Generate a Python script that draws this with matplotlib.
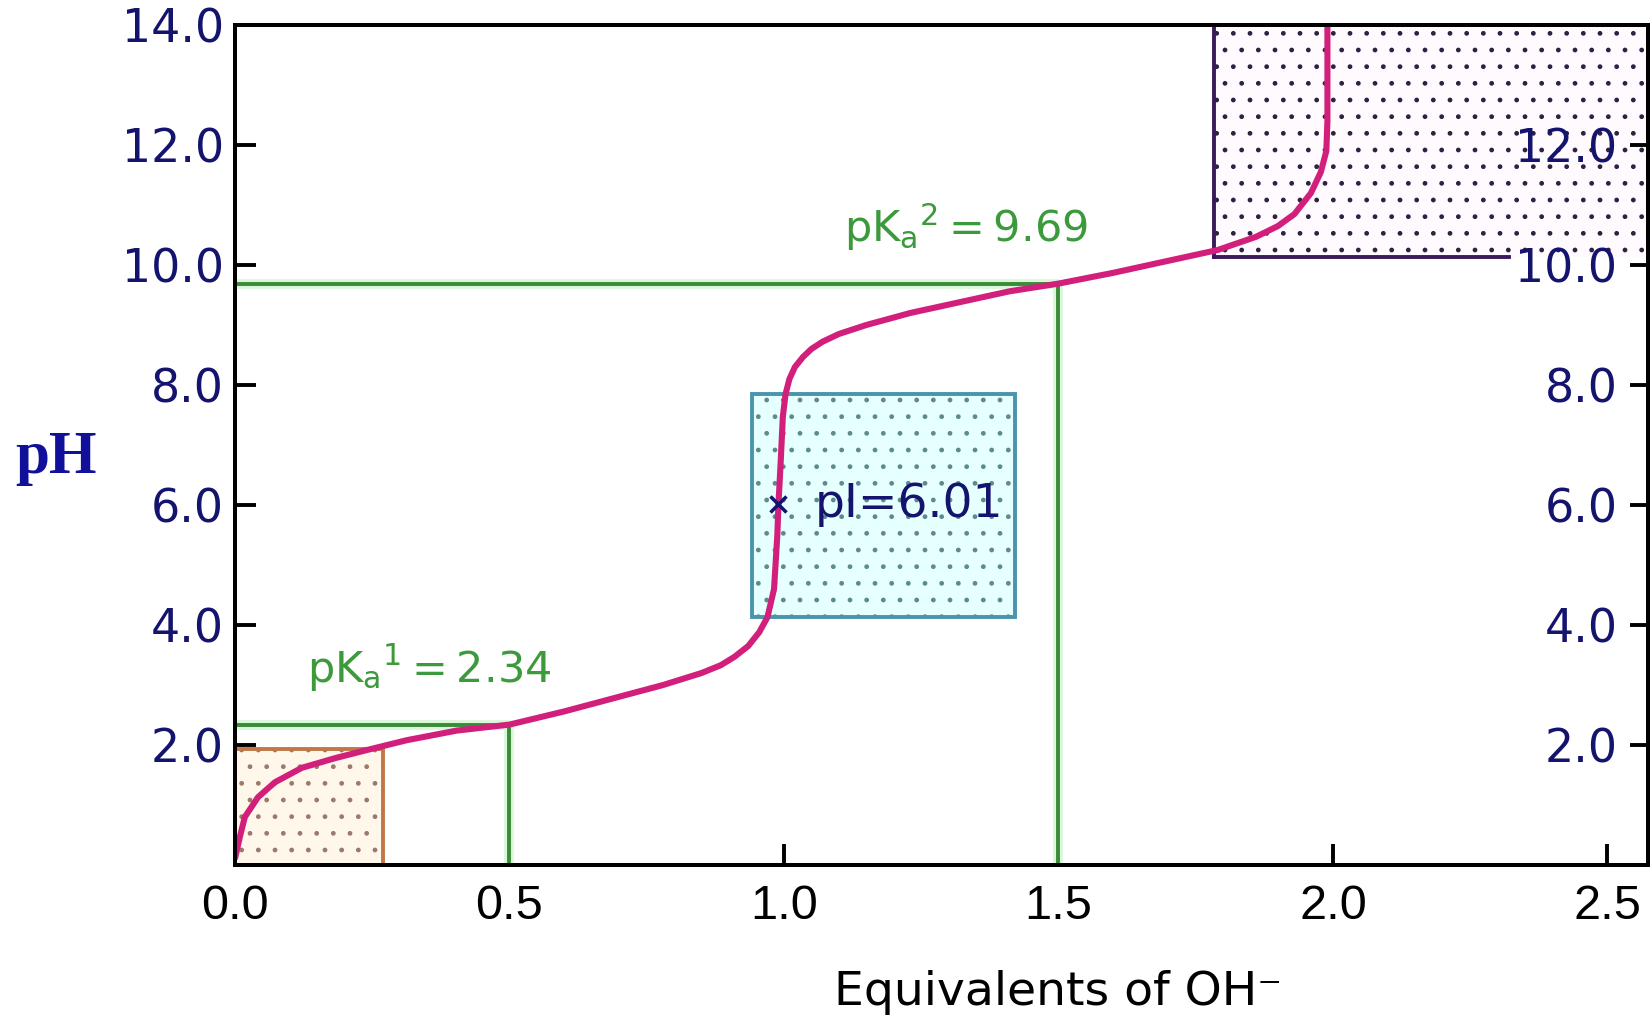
import numpy as np
import matplotlib.pyplot as plt
from matplotlib.patches import Rectangle

# titration curve
eq_oh = [0.0, 0.009, 0.018, 0.042, 0.073, 0.122, 0.182, 0.242, 0.313, 0.404, 0.5,
         0.6, 0.69, 0.78, 0.85, 0.885, 0.91, 0.935, 0.955, 0.97, 0.982, 0.988, 0.99,
         0.994, 0.998, 1.003, 1.01, 1.02, 1.035, 1.05, 1.07, 1.1, 1.15, 1.23, 1.32,
         1.41, 1.5, 1.6, 1.69, 1.79, 1.86, 1.9, 1.93, 1.96, 1.978, 1.988, 1.99, 1.99]
ph_curve = [0.1, 0.47, 0.8, 1.13, 1.38, 1.62, 1.78, 1.92, 2.08, 2.24, 2.34,
            2.56, 2.78, 3.0, 3.2, 3.33, 3.47, 3.65, 3.88, 4.13, 4.6, 5.5, 6.01,
            6.7, 7.47, 7.85, 8.1, 8.3, 8.47, 8.6, 8.72, 8.85, 9.0, 9.2, 9.38,
            9.56, 9.69, 9.87, 10.05, 10.25, 10.47, 10.65, 10.85, 11.2, 11.55, 11.9, 12.4, 14.0]

pka_eq = [0.5, 1.5]
pka_vals = [2.34, 9.69]
pka_labels = [r'$\mathrm{pK_a{}^1=2.34}$', r'$\mathrm{pK_a{}^2=9.69}$']
pka_label_pos = [(0.131, 3.03), (1.11, 10.38)]

pi_eq = 0.99
pi_val = 6.01

# shaded zones: (x0, x1, y0, y1)
zone_low = (0.0, 0.27, 0.0, 1.93)
zone_mid = (0.942, 1.421, 4.13, 7.85)
zone_high = (1.783, 2.574, 10.13, 14.0)
zone_high_edge_end = 2.32

y_ticks = [2, 4, 6, 8, 10, 12, 14]
x_ticks = [0.0, 0.5, 1.0, 1.5, 2.0, 2.5]

navy = '#14146e'
green = '#3a8c3a'
curve_col = '#d21f7c'

fig = plt.figure(figsize=(16.51, 10.21), dpi=100)
ax = fig.add_axes([0.1423, 0.1528, 0.8559, 0.8227])
ax.set_xlim(0, 2.574)
ax.set_ylim(0, 14)


def zone(box, face, dots, z=1):
    x0, x1, y0, y1 = box
    ax.add_patch(Rectangle((x0, y0), x1 - x0, y1 - y0, facecolor=face, edgecolor='none', zorder=z))
    ax.add_patch(Rectangle((x0, y0), x1 - x0, y1 - y0, facecolor='none', edgecolor=dots,
                           hatch='.', linewidth=0, zorder=z))


zone(zone_low, '#fff7ea', '#9a7a6a')
x0, x1, y0, y1 = zone_low
ax.plot([x0, x1, x1], [y1, y1, y0], color='#c0784a', lw=2.8, zorder=2)

zone(zone_mid, '#e6ffff', '#5e8a8e')
x0, x1, y0, y1 = zone_mid
ax.add_patch(Rectangle((x0, y0), x1 - x0, y1 - y0, facecolor='none', edgecolor='#4a94ac',
                       lw=2.8, zorder=2))

zone(zone_high, '#fffafe', '#2e2040')
x0, x1, y0, y1 = zone_high
ax.plot([x0, x0], [y1, y0], color='#3a1a5a', lw=2.8, zorder=2)
ax.plot([x0, zone_high_edge_end], [y0, y0], color='#3a1a5a', lw=2.8, zorder=2)

# pKa guide lines
for xe, pv, lab, pos in zip(pka_eq, pka_vals, pka_labels, pka_label_pos):
    ax.plot([0, xe, xe], [pv, pv, 0], color='#d8f8d8', lw=7, zorder=2.5, solid_capstyle='butt')
    ax.plot([0, xe, xe], [pv, pv, 0], color=green, lw=2.8, zorder=3, solid_capstyle='butt')
    ax.text(pos[0], pos[1], lab, color='#3c9a3c', fontsize=31, va='baseline', ha='left', zorder=5)

# titration curve
ax.plot(eq_oh, ph_curve, color=curve_col, lw=4.4, zorder=4, solid_capstyle='butt')

# isoelectric point
ax.plot([pi_eq], [pi_val], marker='x', color=navy, ms=11, mew=2.5, zorder=6)
ax.text(1.056, 5.8, 'pI=6.01', color=navy, fontsize=34, va='baseline', ha='left', zorder=6)

# axes styling
for s in ax.spines.values():
    s.set_linewidth(2.8)
ax.set_yticks(y_ticks)
ax.set_yticklabels([f'{v:.1f}' for v in y_ticks])
ax.set_xticks(x_ticks)
ax.set_xticklabels([f'{v:.1f}' for v in x_ticks])
ax.tick_params(axis='y', direction='in', length=15, width=2.8, pad=8,
               labelsize=33, labelcolor=navy)
ax.tick_params(axis='x', direction='in', length=15, width=2.8, pad=14,
               labelsize=35, labelcolor='black')
for lbl in ax.get_xticklabels():
    lbl.set_family(['Liberation Sans', 'DejaVu Sans'])

ax2 = ax.twinx()
ax2.set_ylim(0, 14)
ax2.set_yticks(y_ticks)
ax2.set_yticklabels([f'{v:.1f}' for v in y_ticks[:-1]] + [''])
ax2.tick_params(axis='y', direction='in', length=13, width=2.8, pad=-22,
                labelsize=33, labelcolor=navy)
for lbl in ax2.get_yticklabels():
    lbl.set_horizontalalignment('right')
for s in ax2.spines.values():
    s.set_linewidth(2.8)

ax.set_ylabel('pH', family='Liberation Serif', fontweight='bold', fontsize=44,
              color='#10109a', rotation=0, va='center', ha='center')
ax.yaxis.set_label_coords(-0.1267, 0.4845)
ax.set_xlabel('Equivalents of OH⁻', fontsize=34, color='black', va='center')
ax.xaxis.set_label_coords(0.5825, -0.152)

fig.savefig('out.png', dpi=100)
